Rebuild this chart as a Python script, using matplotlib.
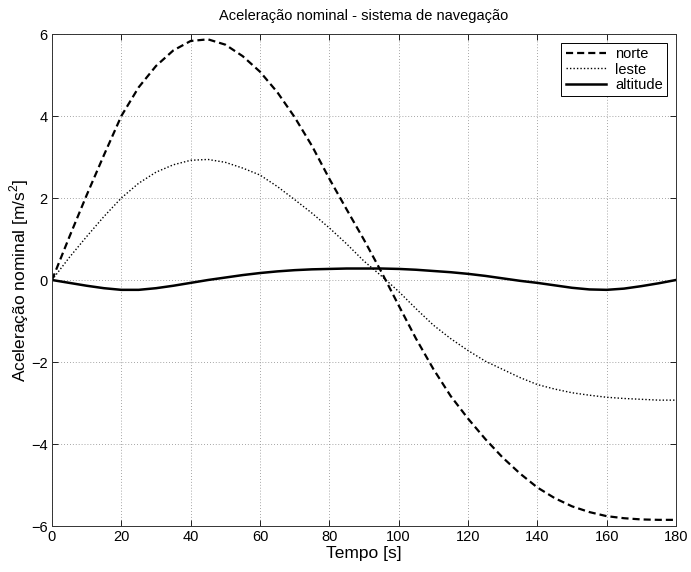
"""
Aceleração nominal - sistema de navegação (norte, leste, altitude).
"""

import numpy as np
import matplotlib
matplotlib.use("Agg")
import matplotlib.pyplot as plt

# tempo [s], one sample every 5 s
tempo = [0, 5, 10, 15, 20, 25, 30, 35, 40, 45, 50, 55, 60, 65, 70, 75, 80, 85, 90,
         95, 100, 105, 110, 115, 120, 125, 130, 135, 140, 145, 150, 155, 160, 165,
         170, 175, 180]

norte = [0.0, 1.05, 2.07, 3.05, 4.0, 4.7, 5.22, 5.6, 5.83, 5.87, 5.74, 5.46, 5.08,
         4.58, 3.97, 3.27, 2.47, 1.72, 0.98, 0.2, -0.62, -1.43, -2.17, -2.83, -3.38,
         -3.88, -4.33, -4.72, -5.06, -5.32, -5.52, -5.66, -5.76, -5.81, -5.84, -5.85,
         -5.85]

leste = [0.0, 0.55, 1.06, 1.55, 2.0, 2.36, 2.63, 2.81, 2.92, 2.94, 2.87, 2.73, 2.56,
         2.28, 1.96, 1.63, 1.27, 0.88, 0.46, 0.1, -0.28, -0.7, -1.1, -1.43, -1.72,
         -1.98, -2.18, -2.38, -2.55, -2.66, -2.75, -2.81, -2.86, -2.89, -2.91, -2.93,
         -2.93]

altitude = [0.0, -0.07, -0.14, -0.2, -0.24, -0.24, -0.2, -0.14, -0.07, 0.0, 0.06,
            0.12, 0.17, 0.21, 0.24, 0.26, 0.27, 0.28, 0.28, 0.28, 0.27, 0.25, 0.22,
            0.19, 0.15, 0.1, 0.04, -0.02, -0.07, -0.13, -0.19, -0.23, -0.24, -0.21,
            -0.15, -0.08, 0.0]

X_TICKS = list(range(0, 181, 20))
Y_TICKS = list(range(-6, 7, 2))

plt.rcParams["font.family"] = ["Liberation Sans", "DejaVu Sans"]
plt.rcParams["mathtext.fontset"] = "custom"
plt.rcParams["mathtext.rm"] = "Liberation Sans"

fig = plt.figure(figsize=(6.91, 5.72), dpi=100)
ax = fig.add_axes([52 / 691, 1 - 526 / 572, 624 / 691, 492 / 572])

ax.plot(tempo, norte, color="black", lw=1.6, linestyle=(0, (3.2, 1.8)), label="norte")
ax.plot(tempo, leste, color="black", lw=1.0, linestyle=(0, (1, 1.5)), label="leste")
ax.plot(tempo, altitude, color="black", lw=1.8, linestyle="-", label="altitude")

ax.set_xlim(0, 180)
ax.set_ylim(-6, 6)
ax.set_xticks(X_TICKS)
ax.set_yticks(Y_TICKS)
ax.grid(True, linestyle=(0, (1, 2.5)), color="#888888", linewidth=0.6)
ax.tick_params(direction="in", top=True, right=True, length=4, width=0.6,
               labelsize=10.5, pad=3)
for s in ax.spines.values():
    s.set_linewidth(0.7)
    s.set_color("#333333")

ax.set_title("Aceleração nominal - sistema de navegação", fontsize=10.5, pad=10)
ax.set_xlabel("Tempo [s]", fontsize=12.5, labelpad=1)
ax.set_ylabel("Aceleração nominal [m/s$^2$]", fontsize=12.5, labelpad=0)

leg = ax.legend(loc="upper right", fontsize=10.5, frameon=True, fancybox=False,
                edgecolor="black", framealpha=1, handlelength=2.8,
                handletextpad=0.6, borderpad=0.3, labelspacing=0.1,
                borderaxespad=0.6)
leg.get_frame().set_linewidth(0.7)

fig.savefig("out.png", dpi=100)
